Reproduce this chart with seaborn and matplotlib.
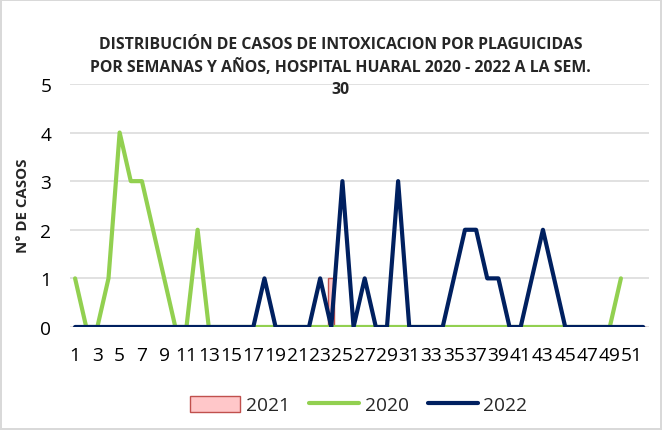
import numpy as np
import pandas as pd
import matplotlib
matplotlib.use("Agg")
import matplotlib.pyplot as plt
import seaborn as sns

# semanas epidemiologicas
weeks = list(range(1, 53))
tick_weeks = list(range(1, 53, 2))

casos_2020 = [1, 0, 0, 1, 4, 3, 3, 2, 1, 0, 0, 2, 0] + [0] * 36 + [1]
casos_2021 = [0] * 23 + [1] + [0] * 28
casos_2022 = ([0] * 17 + [1] + [0] * 4 + [1, 0, 3, 0, 1, 0, 0, 3]
              + [0] * 4 + [1, 2, 2, 1, 1, 0, 0, 1, 2, 1] + [0] * 8)

title = ("DISTRIBUCIÓN DE CASOS DE INTOXICACION POR PLAGUICIDAS\n"
         "POR SEMANAS Y AÑOS, HOSPITAL HUARAL 2020 - 2022 A LA SEM.\n30")

sns.set_style("white")
plt.rcParams["font.family"] = ["Open Sans", "DejaVu Sans"]

fig = plt.figure(figsize=(6.62, 4.31), dpi=100)
ax = fig.add_axes([0.105, 0.239, 0.875, 0.564])

ax.bar(weeks, casos_2021, width=0.55, color="#ffc7c9",
       edgecolor="#c0504d", linewidth=1.0, label="2021", zorder=2)
sns.lineplot(x=weeks[:len(casos_2020)], y=casos_2020, color="#92d050",
             linewidth=3.0, label="2020", ax=ax, zorder=3,
             solid_joinstyle="round", solid_capstyle="round")
sns.lineplot(x=weeks, y=casos_2022, color="#002060",
             linewidth=3.0, label="2022", ax=ax, zorder=4,
             solid_joinstyle="round", solid_capstyle="round")

ax.set_xlim(0.5, 52.5)
ax.set_ylim(0, 5)
ax.set_yticks(range(0, 6))
ax.set_xticks(tick_weeks)
ax.set_xticklabels([str(w) for w in tick_weeks])
ax.tick_params(axis="both", length=0, labelsize=13.8, colors="#000000")
ax.tick_params(axis="x", pad=14)
ax.tick_params(axis="y", pad=13)
ax.grid(axis="y", color="#d9d9d9", linewidth=1.1)
ax.set_axisbelow(True)
for s in ax.spines.values():
    s.set_visible(False)
ax.set_xlabel("")
ax.set_ylabel("")

handles, labels = ax.get_legend_handles_labels()
ax.get_legend().remove()
order = [labels.index("2021"), labels.index("2020"), labels.index("2022")]
leg = fig.legend([handles[i] for i in order], [labels[i] for i in order],
                 loc="center", bbox_to_anchor=(0.542, 0.058), ncol=3, frameon=False,
                 fontsize=13.8, handlelength=2.6, handleheight=0.9,
                 columnspacing=1.0, handletextpad=0.3)
for h in leg.legend_handles[1:]:
    h.set_solid_capstyle("round")

fig.text(0.514, 0.915, title, ha="center", va="top", fontsize=11.4,
         fontweight="bold", linespacing=1.5)
fig.text(0.034, 0.522, "N° DE CASOS", rotation=90, ha="center", va="center",
         fontsize=10.8, fontweight="bold")

fig.patch.set_edgecolor("#d9d9d9")
fig.patch.set_linewidth(1.5)

fig.savefig("out.png", dpi=100, edgecolor=fig.get_edgecolor())
